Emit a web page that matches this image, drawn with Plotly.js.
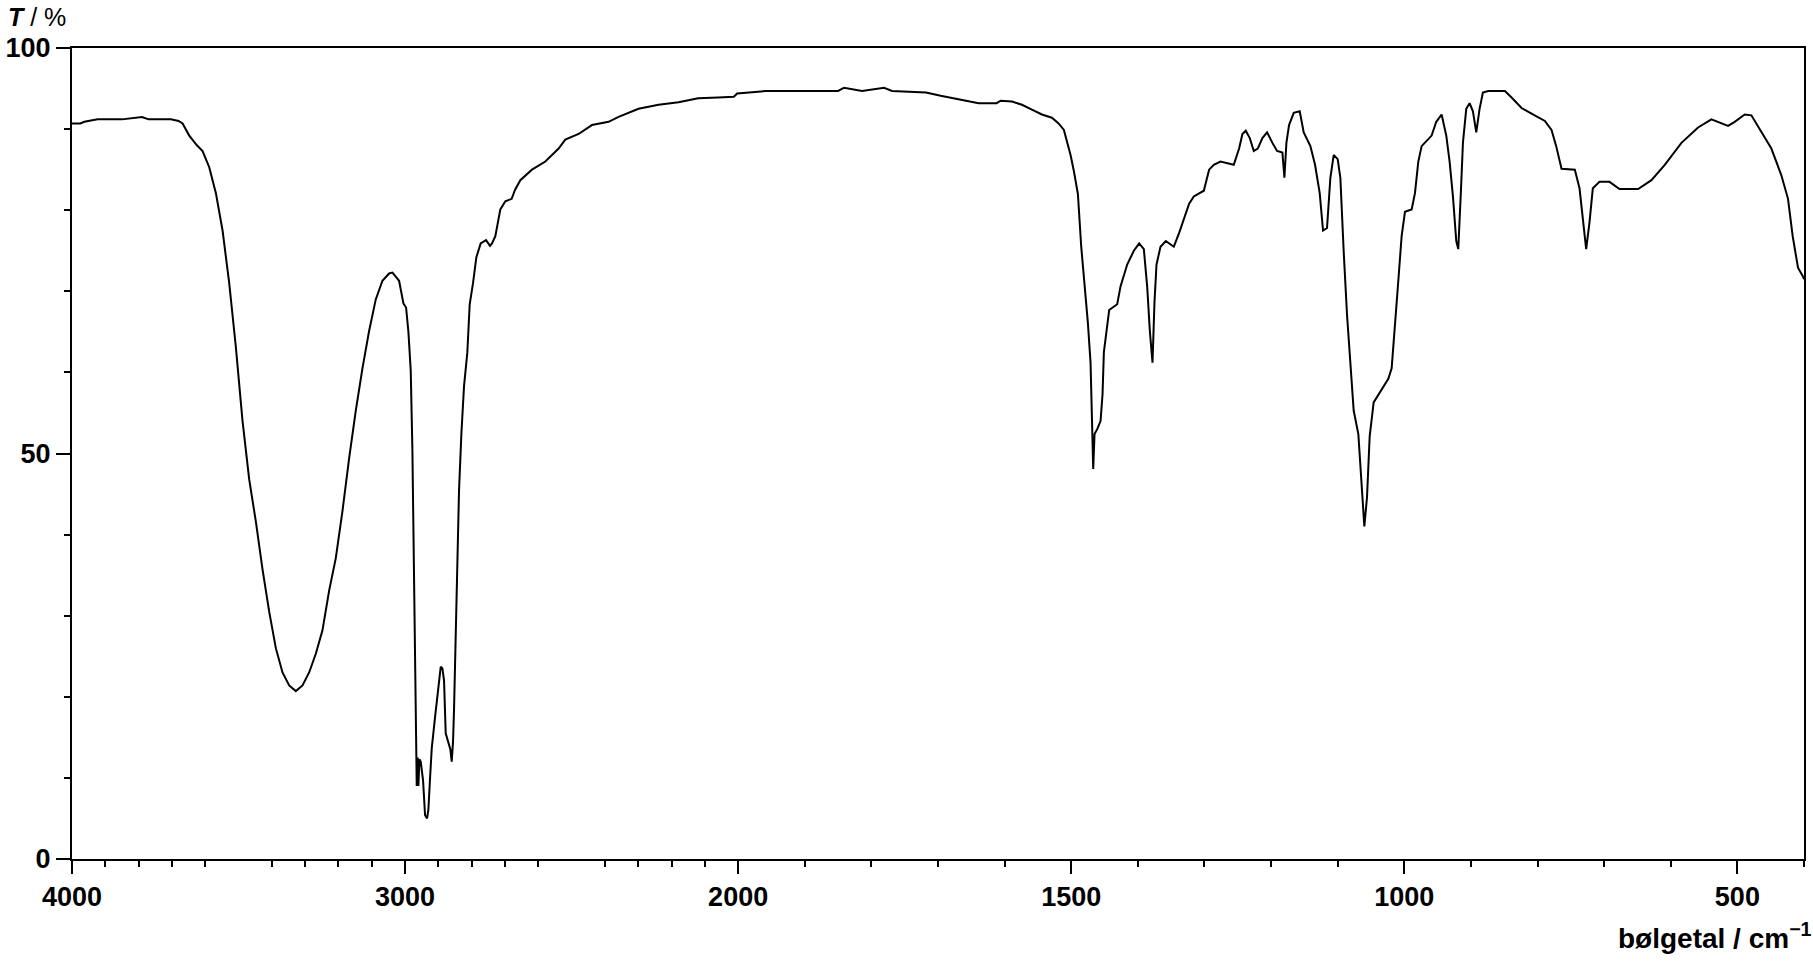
<!DOCTYPE html>
<html>
<head>
<meta charset="utf-8">
<script src="https://cdn.plot.ly/plotly-3.0.1.min.js"></script>
<style>
  html, body { margin: 0; padding: 0; background: #fff; }
  #spectrum { width: 1813px; height: 966px; }
</style>
</head>
<body>
<div id="spectrum"></div>
<script>
    // IR spectrum (wavenumber in cm-1, transmittance in %)
    const wavenumbers = [
        4000, 3975, 3963, 3923, 3850, 3790, 3770, 3703, 3680, 3668, 3648, 3625, 3608, 3588, 3568,
        3548, 3528, 3508, 3488, 3468, 3448, 3428, 3408, 3388, 3368, 3348, 3328, 3308, 3288, 3268,
        3248, 3228, 3208, 3188, 3168, 3148, 3128, 3108, 3088, 3068, 3048, 3038, 3028, 3018, 3005,
        2997, 2990, 2983, 2978, 2973, 2968, 2965, 2962, 2960, 2957, 2953, 2946, 2940, 2934, 2930,
        2925, 2920, 2910, 2900, 2893, 2888, 2883, 2878, 2870, 2864, 2860, 2856, 2853, 2846, 2838,
        2831, 2823, 2813, 2806, 2796, 2786, 2773, 2757, 2745, 2739, 2729, 2714, 2699, 2680, 2670,
        2654, 2619, 2579, 2539, 2519, 2479, 2439, 2389, 2359, 2299, 2239, 2179, 2120, 2060, 2013,
        2003, 1958, 1850, 1841, 1814, 1781, 1769, 1718, 1696, 1676, 1654, 1639, 1612, 1606, 1589,
        1574, 1559, 1544, 1529, 1519, 1511, 1507, 1501, 1496, 1490, 1485, 1480, 1475, 1471, 1469,
        1467, 1465, 1461, 1456, 1453, 1451, 1446, 1443, 1431, 1426, 1416, 1406, 1398, 1391, 1386,
        1382, 1378, 1375, 1372, 1366, 1358, 1346, 1338, 1331, 1323, 1316, 1301, 1293, 1286, 1276,
        1256, 1248, 1243, 1238, 1232, 1226, 1220, 1213, 1206, 1198, 1191, 1183, 1180, 1177, 1173,
        1166, 1157, 1151, 1141, 1134, 1127, 1122, 1116, 1111, 1106, 1100, 1096, 1091, 1086, 1081,
        1076, 1069, 1064, 1060, 1056, 1052, 1046, 1036, 1024, 1019, 1014, 1009, 1004, 999, 989,
        984, 979, 974, 959, 952, 944, 937, 932, 927, 922, 919, 915, 912, 907, 902,
        897, 892, 887, 882, 874, 849, 839, 824, 809, 789, 779, 772, 764, 744, 737,
        732, 727, 722, 717, 707, 692, 677, 649, 629, 609, 584, 559, 539, 514, 504,
        489, 479, 464, 449, 434, 424, 417, 409, 402, 400
    ];
    const transmittance = [
        90.7, 90.7, 90.9, 91.2, 91.2, 91.5, 91.2, 91.2, 91.0, 90.7, 89.2, 88.0, 87.3, 85.3, 82.1,
        77.5, 71.0, 63.1, 54.0, 46.8, 41.6, 35.7, 30.5, 26.0, 23.0, 21.4, 20.7, 21.4, 23.0, 25.3,
        28.2, 33.1, 37.1, 42.9, 49.4, 55.3, 60.5, 65.1, 69.0, 71.3, 72.2, 72.3, 71.8, 71.3, 68.5,
        68.0, 65.0, 60.2, 50.4, 34.8, 14.2, 9.0, 12.5, 9.0, 12.3, 12.0, 9.7, 5.4, 5.0, 6.1,
        10.0, 13.6, 17.5, 21.4, 23.7, 23.5, 22.0, 15.5, 14.2, 13.5, 12.0, 14.5, 18.5, 33.1, 45.5,
        52.4, 58.3, 62.5, 68.4, 71.0, 74.2, 75.9, 76.3, 75.6, 75.9, 76.8, 80.1, 81.1, 81.4, 82.5,
        83.7, 85.0, 86.0, 87.6, 88.7, 89.4, 90.5, 90.9, 91.5, 92.5, 93.0, 93.3, 93.8, 93.9, 94.0,
        94.4, 94.7, 94.7, 95.1, 94.7, 95.1, 94.7, 94.5, 94.1, 93.8, 93.5, 93.2, 93.2, 93.5, 93.4,
        93.0, 92.4, 91.8, 91.4, 90.7, 89.9, 88.7, 86.8, 84.8, 82.0, 75.5, 71.0, 66.1, 61.2, 53.0,
        48.1, 52.4, 53.0, 54.0, 57.3, 62.5, 66.1, 67.7, 68.4, 70.6, 73.3, 75.0, 75.9, 75.2, 70.6,
        65.1, 61.2, 68.7, 73.3, 75.5, 76.2, 75.5, 77.2, 78.8, 80.8, 81.7, 82.4, 85.0, 85.6, 86.0,
        85.6, 87.6, 89.4, 89.8, 88.9, 87.3, 87.6, 88.9, 89.6, 88.3, 87.3, 87.1, 84.0, 88.3, 90.5,
        92.0, 92.2, 89.6, 87.9, 85.6, 82.1, 77.5, 77.8, 84.0, 86.8, 86.3, 84.0, 74.9, 67.1, 61.2,
        55.3, 52.4, 45.5, 41.0, 44.6, 52.1, 56.3, 57.6, 59.2, 60.5, 65.4, 71.3, 76.8, 79.8, 80.1,
        82.1, 86.0, 87.9, 89.2, 90.9, 91.8, 89.2, 86.0, 81.7, 76.2, 75.2, 82.4, 88.3, 92.5, 93.2,
        92.2, 89.6, 92.5, 94.5, 94.7, 94.7, 93.9, 92.6, 91.9, 91.0, 89.9, 87.9, 85.1, 85.0, 82.7,
        78.8, 75.2, 78.5, 82.7, 83.5, 83.5, 82.6, 82.6, 83.7, 85.6, 88.3, 90.2, 91.2, 90.4, 90.9,
        91.8, 91.7, 89.6, 87.6, 84.3, 81.4, 76.8, 72.9, 71.9, 71.5
    ];

    // axis ticks
    const labelTicks = [4000, 3000, 2000, 1500, 1000, 500];
    const labelTexts = ['4000', '3000', '2000', '1500', '1000', '500'];
    const longTicks = [3500, 2500];   // long ticks without a label
    const yTicks = [0, 50, 100];
    const yLabels = ['0', '50', '100'];
    const yMinorTicks = [10, 20, 30, 40, 60, 70, 80, 90];

    // the wavenumber axis is stretched x2 below 2000 cm-1
    const toPos = (wn) => wn >= 2000 ? 4000 - wn : 2000 + 2 * (2000 - wn);

    const minorTicks = [];
    for (let wn = 3900; wn >= 400; wn -= 100) {
        if (!labelTicks.includes(wn) && !longTicks.includes(wn)) minorTicks.push(wn);
    }

    const fontFamily = 'Liberation Sans, Arial, sans-serif';
    const tickFont = {family: fontFamily, size: 27, color: '#000', weight: 'bold'};
    const xRange = [0, toPos(400)];

    const trace = {
        x: wavenumbers.map(toPos),
        y: transmittance,
        type: 'scatter',
        mode: 'lines',
        line: {color: '#000', width: 2},
        hoverinfo: 'skip'
    };

    const layout = {
        width: 1813,
        height: 966,
        margin: {l: 72, r: 9, t: 48, b: 107},
        paper_bgcolor: '#fff',
        plot_bgcolor: '#fff',
        showlegend: false,
        hovermode: false,
        xaxis: {
            range: xRange,
            showgrid: false,
            zeroline: false,
            showline: true,
            linecolor: '#000',
            linewidth: 2,
            mirror: true,
            ticks: 'outside',
            ticklen: 13,
            tickwidth: 2,
            tickcolor: '#000',
            tickmode: 'array',
            tickvals: labelTicks.map(toPos),
            ticktext: labelTexts,
            tickfont: tickFont,
            minor: {
                tickmode: 'array',
                tickvals: minorTicks.map(toPos),
                ticks: 'outside',
                ticklen: 6,
                tickwidth: 2,
                tickcolor: '#000',
                showgrid: false
            }
        },
        xaxis2: {
            overlaying: 'x',
            anchor: 'y',
            side: 'bottom',
            range: xRange,
            showgrid: false,
            zeroline: false,
            showline: false,
            ticks: 'outside',
            ticklen: 13,
            tickwidth: 2,
            tickcolor: '#000',
            tickmode: 'array',
            tickvals: longTicks.map(toPos),
            showticklabels: false
        },
        yaxis: {
            range: [0, 100],
            showgrid: false,
            zeroline: false,
            showline: true,
            linecolor: '#000',
            linewidth: 2,
            mirror: true,
            ticks: 'outside',
            ticklen: 14,
            tickwidth: 2,
            tickcolor: '#000',
            tickmode: 'array',
            tickvals: yTicks,
            ticktext: yLabels,
            tickfont: tickFont,
            minor: {
                tickmode: 'array',
                tickvals: yMinorTicks,
                ticks: 'outside',
                ticklen: 6,
                tickwidth: 2,
                tickcolor: '#000',
                showgrid: false
            }
        },
        annotations: [
            {
                text: '<b><i>T</i></b> / %',
                xref: 'paper', yref: 'paper',
                x: 0, y: 1,
                xanchor: 'left', yanchor: 'middle',
                xshift: -66, yshift: 31,
                showarrow: false,
                font: {family: fontFamily, size: 25, color: '#000'}
            },
            {
                text: '<b>bølgetal / cm<sup>\u22121</sup></b>',
                xref: 'paper', yref: 'paper',
                x: 1, y: 0,
                xanchor: 'right', yanchor: 'middle',
                xshift: 10, yshift: -77,
                showarrow: false,
                font: {family: fontFamily, size: 28, color: '#000'}
            }
        ]
    };

    Plotly.newPlot('spectrum', [trace], layout, {displayModeBar: false, staticPlot: true});
</script>
</body>
</html>
